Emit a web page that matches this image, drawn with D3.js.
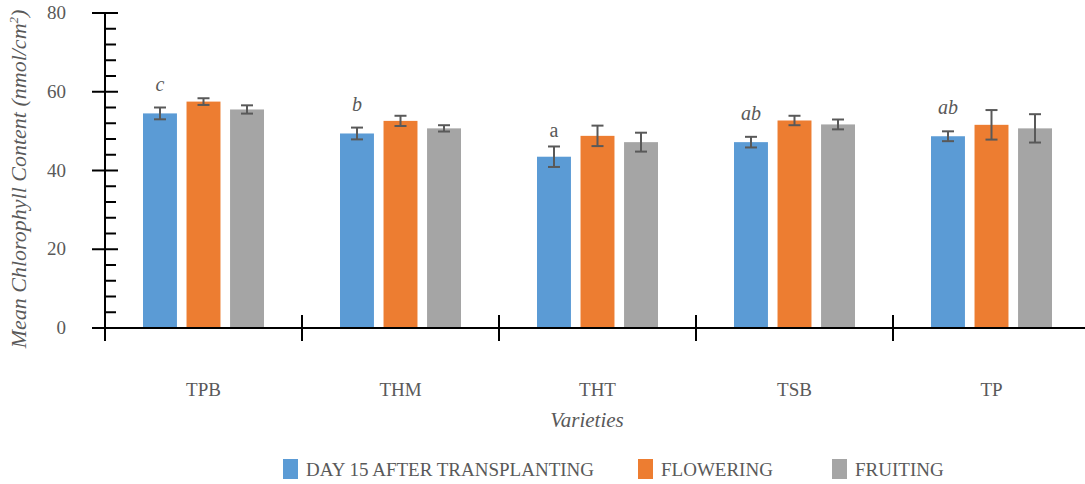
<!DOCTYPE html>
<html>
<head>
<meta charset="utf-8">
<script src="https://cdn.jsdelivr.net/npm/d3@7"></script>
<style>
  html, body { margin: 0; padding: 0; background: #fff; }
  svg { display: block; }
  text { font-family: "Liberation Serif", "DejaVu Serif", serif; fill: #595959; }
</style>
</head>
<body>
<svg id="chart" width="1085" height="484"></svg>
<script>
// Varieties and growth stages
const categories = ["TPB", "THM", "THT", "TSB", "TP"];
const stages = ["DAY 15 AFTER TRANSPLANTING", "FLOWERING", "FRUITING"];

// Mean chlorophyll content (nmol/cm²) per stage
const day15 = [54.5, 49.4, 43.5, 47.2, 48.7];
const flowering = [57.5, 52.6, 48.8, 52.7, 51.6];
const fruiting = [55.5, 50.7, 47.2, 51.7, 50.7];

// Standard errors per stage
const day15Err = [1.5, 1.5, 2.6, 1.35, 1.25];
const floweringErr = [0.85, 1.3, 2.6, 1.2, 3.75];
const fruitingErr = [1.05, 0.8, 2.4, 1.25, 3.6];

// Significance letters for the day-15 series
const letters = ["c", "b", "a", "ab", "ab"];
const letterItalic = [true, true, false, true, true];

const yTicks = [0, 20, 40, 60, 80];
const colors = ["#5B9BD5", "#ED7D31", "#A5A5A5"];

const values = [day15, flowering, fruiting];
const errors = [day15Err, floweringErr, fruitingErr];

const svg = d3.select("#chart");

const y = d3.scaleLinear().domain([0, 80]).range([328, 13]);
const x0 = d3.scaleBand().domain(categories).range([105, 1090]).paddingInner(0).paddingOuter(0);
const groupW = 121;
const x1 = d3.scaleBand().domain(stages).range([0, groupW]).paddingInner(0.22).paddingOuter(0);
const groupOff = (x0.bandwidth() - groupW) / 2;

// Bars
const rows = [];
categories.forEach((c, i) => {
  stages.forEach((s, j) => {
    rows.push({ cat: c, stage: s, j, v: values[j][i], e: errors[j][i] });
  });
});

const g = svg.append("g");
g.selectAll("rect.bar").data(rows).join("rect")
  .attr("class", "bar")
  .attr("x", d => x0(d.cat) + groupOff + x1(d.stage))
  .attr("y", d => y(d.v))
  .attr("width", x1.bandwidth())
  .attr("height", d => y(0) - y(d.v))
  .attr("fill", d => colors[d.j]);

// Error bars
const eb = g.selectAll("g.err").data(rows).join("g").attr("class", "err")
  .attr("transform", d => `translate(${x0(d.cat) + groupOff + x1(d.stage) + x1.bandwidth() / 2},0)`);
eb.append("line")
  .attr("y1", d => y(d.v + d.e)).attr("y2", d => y(d.v - d.e))
  .attr("stroke", "#595959").attr("stroke-width", 2);
eb.append("line")
  .attr("x1", -6).attr("x2", 6)
  .attr("y1", d => y(d.v + d.e)).attr("y2", d => y(d.v + d.e))
  .attr("stroke", "#595959").attr("stroke-width", 2);
eb.append("line")
  .attr("x1", -6).attr("x2", 6)
  .attr("y1", d => y(d.v - d.e)).attr("y2", d => y(d.v - d.e))
  .attr("stroke", "#595959").attr("stroke-width", 2);

// Significance letters above the day-15 bars
g.selectAll("text.sig").data(categories).join("text")
  .attr("class", "sig")
  .attr("x", (c) => x0(c) + groupOff + x1(stages[0]) + x1.bandwidth() / 2)
  .attr("y", (c, i) => y(day15[i] + day15Err[i]) - (letterItalic[i] ? 17 : 9))
  .attr("text-anchor", "middle")
  .attr("font-size", 20)
  .attr("font-style", (c, i) => letterItalic[i] ? "italic" : "normal")
  .text((c, i) => letters[i]);

// Y axis: majors cross the line, minors sit on the right
const yAxisG = svg.append("g");
yAxisG.append("line")
  .attr("x1", 105).attr("x2", 105).attr("y1", y(80)).attr("y2", 341)
  .attr("stroke", "#000").attr("stroke-width", 2);
const minor = d3.range(0, 81, 4).filter(v => v % 20 !== 0);
yAxisG.selectAll("line.minor").data(minor).join("line")
  .attr("x1", 105).attr("x2", 116)
  .attr("y1", d => y(d)).attr("y2", d => y(d))
  .attr("stroke", "#000").attr("stroke-width", 2);
yAxisG.selectAll("line.major").data(yTicks).join("line")
  .attr("x1", 92).attr("x2", 118)
  .attr("y1", d => y(d)).attr("y2", d => y(d))
  .attr("stroke", "#000").attr("stroke-width", 2);
yAxisG.selectAll("text.tick").data(yTicks).join("text")
  .attr("x", 66).attr("y", d => y(d) + 6)
  .attr("text-anchor", "end")
  .attr("font-size", 19)
  .text(d => d);

// X axis with category boundary ticks
const xAxisG = svg.append("g");
xAxisG.append("line")
  .attr("x1", 92).attr("x2", 1085).attr("y1", y(0)).attr("y2", y(0))
  .attr("stroke", "#000").attr("stroke-width", 2);
xAxisG.selectAll("line.bound").data(categories.slice(1)).join("line")
  .attr("x1", d => x0(d)).attr("x2", d => x0(d))
  .attr("y1", 315).attr("y2", 341)
  .attr("stroke", "#000").attr("stroke-width", 2);
xAxisG.selectAll("text.cat").data(categories).join("text")
  .attr("x", d => x0(d) + x0.bandwidth() / 2)
  .attr("y", 396)
  .attr("text-anchor", "middle")
  .attr("font-size", 19)
  .text(d => d);

// Axis titles
svg.append("text")
  .attr("x", 587).attr("y", 427)
  .attr("text-anchor", "middle")
  .attr("font-size", 21).attr("font-style", "italic")
  .text("Varieties");

const yt = svg.append("text")
  .attr("transform", "translate(26,179) rotate(-90)")
  .attr("text-anchor", "middle")
  .attr("font-size", 22).attr("font-style", "italic");
yt.append("tspan").text("Mean Chlorophyll Content (nmol/cm");
yt.append("tspan").attr("font-size", 13).attr("dy", -8).text("2");
yt.append("tspan").attr("dy", 8).text(")");

// Legend
const legendX = [283, 638, 832];
const lg = svg.append("g").selectAll("g").data(stages).join("g")
  .attr("transform", (d, i) => `translate(${legendX[i]},459)`);
lg.append("rect").attr("width", 15).attr("height", 20).attr("fill", (d, i) => colors[i]);
lg.append("text").attr("x", 23).attr("y", 17).attr("font-size", 19).text(d => d);
</script>
</body>
</html>
